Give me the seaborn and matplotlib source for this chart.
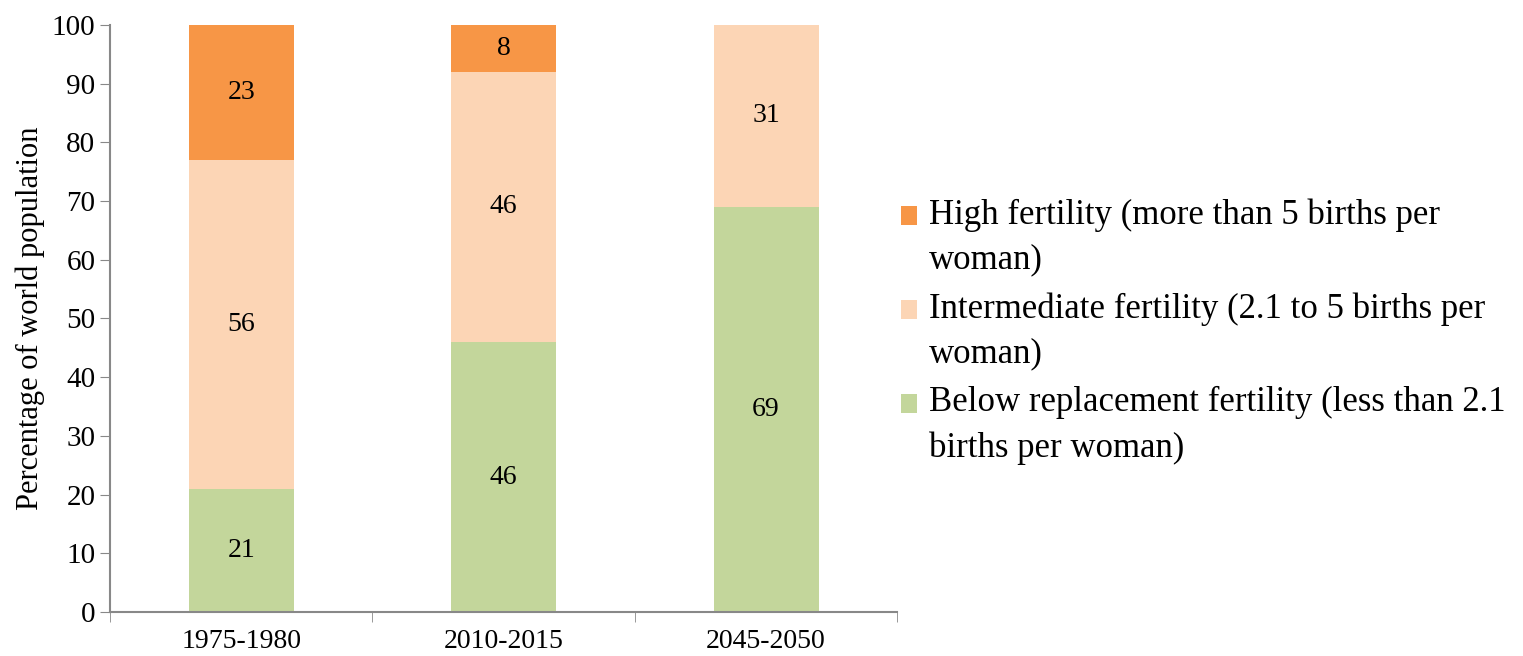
import pandas as pd
import matplotlib.pyplot as plt
import seaborn as sns
from matplotlib.patches import Patch, Rectangle
from matplotlib.legend_handler import HandlerPatch
from matplotlib.ticker import FixedLocator

periods = ['1975-1980', '2010-2015', '2045-2050']
high = [23, 8, 0]
intermediate = [56, 46, 31]
below = [21, 46, 69]

labels = ['High fertility (more than 5 births per\nwoman)',
          'Intermediate fertility (2.1 to 5 births per\nwoman)',
          'Below replacement fertility (less than 2.1\nbirths per woman)']
colors = ['#F79646', '#FCD5B5', '#C3D69B']

df = pd.DataFrame({'period': periods, 'high': high,
                   'intermediate': intermediate, 'below': below})
df['mid_top'] = df['below'] + df['intermediate']
df['top'] = df['mid_top'] + df['high']


# legend square sits next to the first line of the label
class FirstLineHandler(HandlerPatch):
    def create_artists(self, legend, orig_handle, xdescent, ydescent,
                       width, height, fontsize, trans):
        p = Rectangle((-xdescent, -ydescent + 16), width, height,
                      facecolor=orig_handle.get_facecolor(), edgecolor='none',
                      transform=trans)
        return [p]


sns.set_style('white')
plt.rcParams['font.family'] = ['Liberation Serif', 'DejaVu Serif']
plt.rcParams['text.color'] = 'black'
plt.rcParams['xtick.color'] = 'black'
plt.rcParams['ytick.color'] = 'black'
plt.rcParams['axes.labelcolor'] = 'black'

fig = plt.figure(figsize=(15.23, 6.56), dpi=100)
ax = fig.add_axes([0.0722, 0.067, 0.517, 0.895])

# stacked bars drawn as cumulative layers
for col, c in zip(['top', 'mid_top', 'below'], colors):
    sns.barplot(data=df, x='period', y=col, color=c, width=0.4,
                saturation=1, linewidth=0, edgecolor='none', ax=ax)

for i, row in df.iterrows():
    ax.text(i, row['below'] / 2, str(row['below']), ha='center', va='center', fontsize=20)
    ax.text(i, row['below'] + row['intermediate'] / 2, str(row['intermediate']),
            ha='center', va='center', fontsize=20)
    if row['high'] > 0:
        ax.text(i, row['mid_top'] + row['high'] / 2, str(row['high']),
                ha='center', va='center', fontsize=20)

ax.set_xlim(-0.5, 2.5)
ax.set_ylim(0, 100)
ax.set_yticks(range(0, 101, 10))
ax.set_xlabel('')
ax.set_ylabel('Percentage of world population', fontsize=22, labelpad=5)
ax.xaxis.set_minor_locator(FixedLocator([-0.5, 0.5, 1.5, 2.5]))
ax.tick_params(axis='x', which='major', length=0, labelsize=20, pad=12)
ax.tick_params(axis='x', which='minor', length=7, color='#888888', direction='out', bottom=True)
ax.tick_params(axis='y', length=7, color='#888888', direction='out', left=True, labelsize=21)
for s in ['top', 'right']:
    ax.spines[s].set_visible(False)
for s in ['left', 'bottom']:
    ax.spines[s].set_color('#888888')
    ax.spines[s].set_linewidth(1.5)

handles = [Patch(facecolor=c, edgecolor='none') for c in colors]
leg = fig.legend(handles, labels, loc='upper left', bbox_to_anchor=(0.571, 0.745),
                 frameon=False, fontsize=25, handlelength=0.45, handleheight=0.45,
                 handletextpad=0.35, labelspacing=0.45,
                 handler_map={Patch: FirstLineHandler()})
for t in leg.get_texts():
    t.set_linespacing(1.47)

fig.savefig('out.png', dpi=100)
